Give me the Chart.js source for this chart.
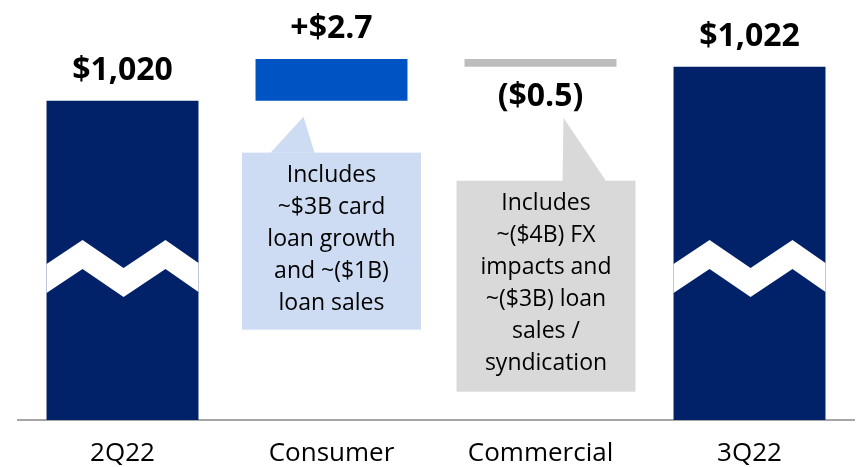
<!DOCTYPE html>
<html>
<head>
<meta charset="utf-8">
<script src="https://cdn.jsdelivr.net/npm/chart.js@4.4.0/dist/chart.umd.min.js"></script>
<style>
  body { margin: 0; background: #fff; }
  #wrap { width: 856px; height: 467px; }
</style>
</head>
<body>
<div id="wrap"><canvas id="c"></canvas></div>
<script>
// loans, $B
var categories = ['2Q22', 'Consumer', 'Commercial', '3Q22'];
var startValue = 1020;
var consumerChange = 2.7;
var commercialChange = -0.5;
var endValue = 1022.2;
var valueLabels = ['$1,020', '+$2.7', '($0.5)', '$1,022'];
var consumerNote = ['Includes', '~$3B card', 'loan growth', 'and ~($1B)', 'loan sales'];
var commercialNote = ['Includes', '~($4B) FX', 'impacts and', '~($3B) loan', 'sales /', 'syndication'];

var axisMin = 999.3;   // axis is broken, bars start here
var axisMax = 1026.2;

var NAVY = '#012169';
var BLUE = '#0053c3';
var GREY_BAR = '#bdbdbd';

// floating ranges for the waterfall
var afterConsumer = startValue + consumerChange;
var ranges = [
    [axisMin, startValue],
    [startValue, afterConsumer],
    [afterConsumer + commercialChange, afterConsumer],
    [axisMin, endValue]
];
var changes = [null, consumerChange, commercialChange, null];

function barBox(bar) {
    return {
        left: bar.x - bar.width / 2,
        right: bar.x + bar.width / 2,
        top: Math.min(bar.y, bar.base),
        bottom: Math.max(bar.y, bar.base)
    };
}

var waterfallDeco = {
    id: 'waterfallDeco',
    afterDatasetsDraw: function(chart) {
        var ctx = chart.ctx;
        var bars = chart.getDatasetMeta(0).data;

        // axis break zigzag on the two total bars
        [0, 3].forEach(function(i) {
            var b = barBox(bars[i]);
            var w = b.right - b.left;
            var fx = [0, 0.237, 0.507, 0.783, 1];
            var fy = [264, 240, 268, 240, 263];
            var gap = 29;
            ctx.save();
            ctx.fillStyle = '#fff';
            ctx.beginPath();
            for (var k = 0; k < fx.length; k++) {
                var px = b.left + fx[k] * w;
                if (k === 0) ctx.moveTo(px, fy[k]);
                else ctx.lineTo(px, fy[k]);
            }
            for (var k = fx.length - 1; k >= 0; k--) {
                ctx.lineTo(b.left + fx[k] * w, fy[k] + gap);
            }
            ctx.closePath();
            ctx.fill();
            ctx.restore();
        });

        // value labels
        ctx.save();
        ctx.font = 'bold 32px "Open Sans"';
        ctx.fillStyle = '#000';
        ctx.textAlign = 'center';
        ctx.textBaseline = 'middle';
        bars.forEach(function(bar, i) {
            var b = barBox(bar);
            if (changes[i] !== null && changes[i] < 0) {
                ctx.fillText(valueLabels[i], bar.x, b.bottom + 30);
            } else {
                ctx.fillText(valueLabels[i], bar.x, b.top - 30);
            }
        });
        ctx.restore();

        // callouts
        var cb = barBox(bars[1]);
        drawCallout(ctx, consumerNote, '#cddcf2', bars[1].x, 179, cb.bottom + 52, 177,
            [[bars[1].x - 61, cb.bottom + 52], [bars[1].x - 28, cb.bottom + 16], [bars[1].x - 17, cb.bottom + 52]]);

        var mb = barBox(bars[2]);
        drawCallout(ctx, commercialNote, '#d9d9d9', bars[2].x + 5.5, 179, mb.bottom + 114, 211,
            [[bars[2].x + 22, mb.bottom + 115], [bars[2].x + 23, mb.bottom + 51], [bars[2].x + 66, mb.bottom + 115]]);
    }
};

function drawCallout(ctx, lines, color, cx, w, top, h, tri) {
    ctx.save();
    ctx.fillStyle = color;
    ctx.fillRect(cx - w / 2, top, w, h);
    ctx.beginPath();
    ctx.moveTo(tri[0][0], tri[0][1]);
    ctx.lineTo(tri[1][0], tri[1][1]);
    ctx.lineTo(tri[2][0], tri[2][1]);
    ctx.closePath();
    ctx.fill();
    ctx.fillStyle = '#000';
    ctx.font = '23px "Open Sans"';
    ctx.textAlign = 'center';
    ctx.textBaseline = 'middle';
    lines.forEach(function(t, k) {
        ctx.fillText(t, cx, top + 23 + k * 32);
    });
    ctx.restore();
}

new Chart(document.getElementById('c'), {
    type: 'bar',
    data: {
        labels: categories,
        datasets: [{
            data: ranges,
            backgroundColor: [NAVY, BLUE, GREY_BAR, NAVY],
            borderWidth: 0,
            borderSkipped: false,
            categoryPercentage: 1,
            barPercentage: 0.727
        }]
    },
    options: {
        responsive: true,
        maintainAspectRatio: false,
        animation: false,
        layout: { padding: { left: 18, right: 2, top: 5, bottom: 1 } },
        plugins: { legend: { display: false }, tooltip: { enabled: false } },
        scales: {
            x: {
                grid: { display: false, drawTicks: false },
                border: { display: true, color: '#a6a6a6', width: 2 },
                ticks: {
                    color: '#000',
                    padding: 21,
                    font: { family: 'Open Sans', size: 26, lineHeight: 1 }
                },
                afterFit: function(scale) { scale.height = 46; }
            },
            y: {
                display: false,
                min: axisMin,
                max: axisMax
            }
        }
    },
    plugins: [waterfallDeco]
});
</script>
</body>
</html>
